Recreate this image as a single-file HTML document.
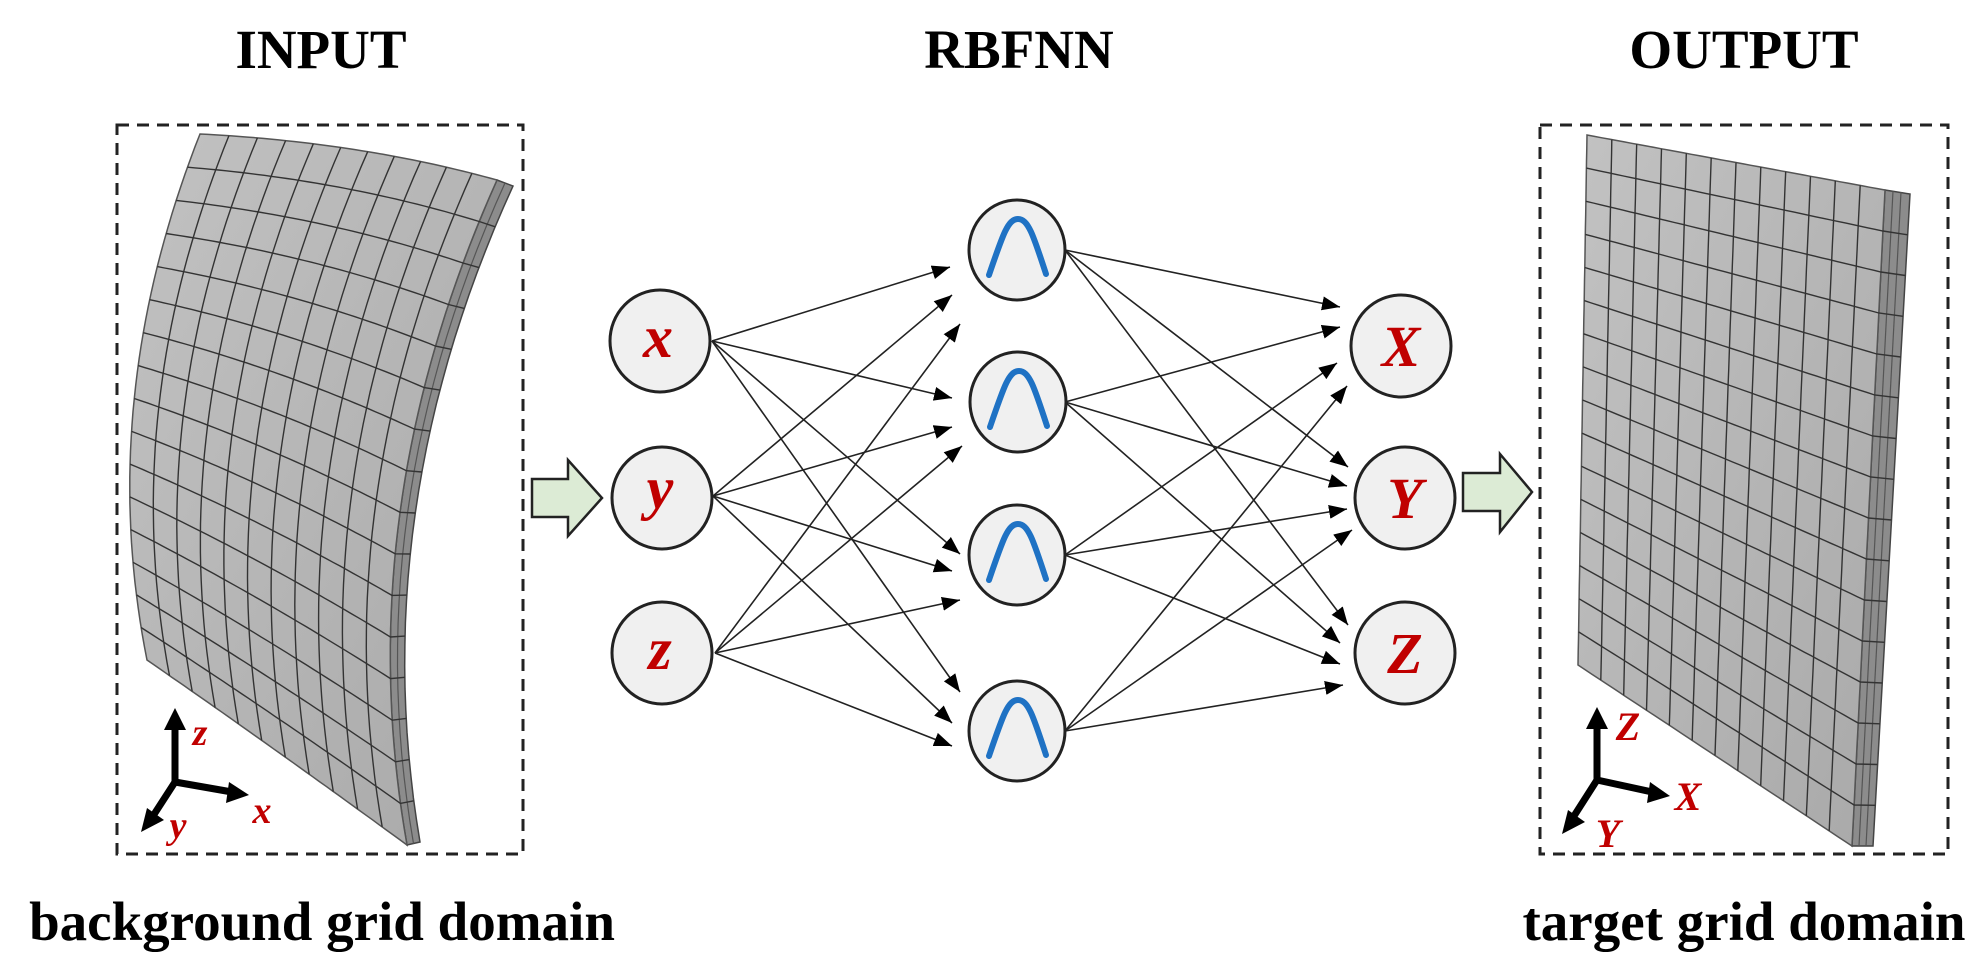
<!DOCTYPE html>
<html><head><meta charset="utf-8"><style>
html,body{margin:0;padding:0;background:#fff;}
svg{display:block;}
.t{font-family:"Liberation Serif",serif;font-weight:bold;fill:#000;}
.n{font-family:"Liberation Serif",serif;font-weight:bold;font-style:italic;fill:#c00000;}
</style></head><body>
<svg id="s" width="1987" height="971" viewBox="0 0 1987 971" xmlns="http://www.w3.org/2000/svg">
<defs>
<marker id="ah" markerUnits="userSpaceOnUse" markerWidth="20" markerHeight="16" refX="18" refY="7" orient="auto"><path d="M0,0 L18,7 L0,14 Z" fill="#000"/></marker>
<linearGradient id="gf" x1="0" y1="0" x2="1" y2="1"><stop offset="0" stop-color="#c2c2c2"/><stop offset="1" stop-color="#a9a9a9"/></linearGradient>
</defs>
<rect width="1987" height="971" fill="#fff"/>
<text class="t" x="321" y="68" font-size="55" text-anchor="middle">INPUT</text>
<text class="t" x="1019" y="68" font-size="55" text-anchor="middle">RBFNN</text>
<text class="t" x="1744" y="68" font-size="55" text-anchor="middle">OUTPUT</text>
<text class="t" x="322" y="940" font-size="55" text-anchor="middle">background grid domain</text>
<text class="t" x="1744" y="940" font-size="55" text-anchor="middle">target grid domain</text>
<rect x="117" y="125" width="406" height="729" fill="none" stroke="#222" stroke-width="3" stroke-dasharray="12,8"/>
<rect x="1540" y="125" width="408" height="729" fill="none" stroke="#222" stroke-width="3" stroke-dasharray="12,8"/>
<g id="meshes"></g>
<g stroke="#000" stroke-width="7" fill="none">
<line x1="175" y1="782" x2="175" y2="728"/><line x1="175" y1="782" x2="232" y2="792"/><line x1="175" y1="782" x2="153" y2="816"/>
<line x1="1597" y1="780" x2="1597" y2="727"/><line x1="1597" y1="780" x2="1652" y2="792"/><line x1="1597" y1="780" x2="1574" y2="816"/>
</g>
<g fill="#000">
<path d="M175,708 L164,730 L186,730Z"/><path d="M249,795 L229,782 L226,803Z"/><path d="M141,832 L147,808 L164,820Z"/>
<path d="M1597,707 L1586,729 L1608,729Z"/><path d="M1670,796 L1650,782 L1647,803Z"/><path d="M1562,834 L1568,810 L1585,822Z"/>
</g>
<text class="n" x="200" y="745" font-size="38" text-anchor="middle">z</text>
<text class="n" x="262" y="823" font-size="38" text-anchor="middle">x</text>
<text class="n" x="178" y="838" font-size="38" text-anchor="middle">y</text>
<text class="n" x="1628" y="740" font-size="40" text-anchor="middle">Z</text>
<text class="n" x="1688" y="810" font-size="40" text-anchor="middle">X</text>
<text class="n" x="1608" y="847" font-size="40" text-anchor="middle">Y</text>
<path d="M532,479 L568,479 L568,460 L602,498 L568,536 L568,517 L532,517 Z" fill="#dcebd5" stroke="#222" stroke-width="2.5"/>
<path d="M1463,473 L1500,473 L1500,454 L1532,492 L1500,532 L1500,511 L1463,511 Z" fill="#dcebd5" stroke="#222" stroke-width="2.5"/>
<g id="links" stroke="#222" stroke-width="1.6" fill="none"></g>
<g id="nodes"></g>
</svg>
<script>
var NS="http://www.w3.org/2000/svg";
function el(p,t,a){var e=document.createElementNS(NS,t);for(var k in a)e.setAttribute(k,a[k]);p.appendChild(e);return e;}
function q(c,t){var a=(1-t)*(1-t),b=2*t*(1-t),d=t*t;return [a*c[0][0]+b*c[1][0]+d*c[2][0],a*c[0][1]+b*c[1][1]+d*c[2][1]];}
function coons(T,B,L,R,u,v){var t=q(T,u),b=q(B,u),l=q(L,v),r=q(R,v);var P00=T[0],P10=T[2],P01=B[0],P11=B[2];var o=[];for(var i=0;i<2;i++){o[i]=(1-v)*t[i]+v*b[i]+(1-u)*l[i]+u*r[i]-((1-u)*(1-v)*P00[i]+u*(1-v)*P10[i]+(1-u)*v*P01[i]+u*v*P11[i]);}return o;}
function pts(a){return a.map(function(p){return p[0].toFixed(1)+","+p[1].toFixed(1)}).join(" ");}
var M=document.getElementById("meshes");
function mesh(T,B,L,R,cols,rows,strip){
 if(strip){el(M,"polygon",{points:pts(strip.poly),fill:"#8c8c8c",stroke:"#444","stroke-width":1.5});
  strip.lines.forEach(function(l){el(M,"polyline",{points:pts(l),fill:"none",stroke:"#555","stroke-width":1.2});});}
 var outline=[],N=40,i;
 for(i=0;i<=N;i++)outline.push(coons(T,B,L,R,i/N,0));
 for(i=0;i<=N;i++)outline.push(coons(T,B,L,R,1,i/N));
 for(i=N;i>=0;i--)outline.push(coons(T,B,L,R,i/N,1));
 for(i=N;i>=0;i--)outline.push(coons(T,B,L,R,0,i/N));
 el(M,"polygon",{points:pts(outline),fill:"url(#gf)",stroke:"#555","stroke-width":1.5});
 for(var c=1;c<cols;c++){var a=[];for(i=0;i<=N;i++)a.push(coons(T,B,L,R,c/cols,i/N));el(M,"polyline",{points:pts(a),fill:"none",stroke:"#333","stroke-width":1.4});}
 for(var r=1;r<rows;r++){var a2=[];for(i=0;i<=N;i++)a2.push(coons(T,B,L,R,i/N,r/rows));
  if(strip&&strip.ext){a2.push(strip.ext(r/rows));}
  el(M,"polyline",{points:pts(a2),fill:"none",stroke:"#333","stroke-width":1.4});}
}
var T1=[[200,134],[360,142],[497,180]],B1=[[147,660],[270,745],[407,845]],L1=[[200,134],[95,400],[147,660]],R1=[[497,180],[348,512],[407,845]];
var R1o=[[513,186],[364,512],[420,842]];
var sp=[];for(var i=0;i<=30;i++)sp.push(q(R1,i/30));for(i=30;i>=0;i--)sp.push(q(R1o,i/30));
var mid=[];for(i=0;i<=30;i++){var a=q(R1,i/30),b=q(R1o,i/30);mid.push([(a[0]+b[0])/2,(a[1]+b[1])/2]);}
mesh(T1,B1,L1,R1,11,16,{poly:sp,lines:[mid],ext:function(v){return q(R1o,v);}});
function lin(a,b){return [a,[(a[0]+b[0])/2,(a[1]+b[1])/2],b];}
var TL=[1587,135],TR=[1885,190],BR=[1852,846],BL=[1578,665],TRo=[1910,194],BRo=[1873,846];
var sp2=[TR,TRo,BRo,BR];
var m1=[[1893,191],[1859,846]],m2=[[1901,192],[1866,846]];
mesh(lin(TL,TR),lin(BL,BR),lin(TL,BL),lin(TR,BR),12,16,{poly:sp2,lines:[m1,m2],ext:function(v){return [TRo[0]+(BRo[0]-TRo[0])*v,TRo[1]+(BRo[1]-TRo[1])*v];}});
var L=document.getElementById("links"),Nd=document.getElementById("nodes");
var inp=[[660,341],[662,498],[662,653]],hid=[[1017,250],[1018,402],[1017,555],[1017,731]],out=[[1401,346],[1405,498],[1405,653]];
var src=[[712,341],[713,496],[715,653]];
var tips=[[[950,267],[952,295],[960,324]],[[952,398],[952,427],[962,446]],[[960,554],[952,571],[960,600]],[[960,692],[952,723],[952,746]]];
for(var h=0;h<4;h++)for(var s=0;s<3;s++)el(L,"line",{x1:src[s][0],y1:src[s][1],x2:tips[h][s][0],y2:tips[h][s][1],"marker-end":"url(#ah)"});
var tips2=[[[1340,307],[1340,327],[1337,363],[1347,386]],[[1348,467],[1347,486],[1347,509],[1352,530]],[[1348,625],[1340,643],[1340,664],[1343,685]]];
for(var o=0;o<3;o++)for(h=0;h<4;h++)el(L,"line",{x1:1065,y1:hid[h][1],x2:tips2[o][h][0],y2:tips2[o][h][1],"marker-end":"url(#ah)"});
var lab=["x","y","z"],lab2=["X","Y","Z"];
inp.forEach(function(p,i){el(Nd,"ellipse",{cx:p[0],cy:p[1],rx:50,ry:51,fill:"#f0f0f0",stroke:"#222","stroke-width":3});var t=el(Nd,"text",{x:p[0]-2,y:p[1]+(i==1?10:16),"font-size":60,"text-anchor":"middle","class":"n"});t.textContent=lab[i];});
out.forEach(function(p,i){el(Nd,"ellipse",{cx:p[0],cy:p[1],rx:50,ry:51,fill:"#f0f0f0",stroke:"#222","stroke-width":3});var t=el(Nd,"text",{x:p[0],y:p[1]+20,"font-size":58,"text-anchor":"middle","class":"n"});t.textContent=lab2[i];});
hid.forEach(function(p){el(Nd,"ellipse",{cx:p[0],cy:p[1],rx:48,ry:50,fill:"#f0f0f0",stroke:"#222","stroke-width":3});
 el(Nd,"path",{d:"M"+(p[0]-28)+","+(p[1]+25)+" C"+(p[0]-14)+","+(p[1]-16)+" "+(p[0]-9)+","+(p[1]-31)+" "+(p[0]+1)+","+(p[1]-31)+" C"+(p[0]+11)+","+(p[1]-31)+" "+(p[0]+16)+","+(p[1]-16)+" "+(p[0]+29)+","+(p[1]+24),fill:"none",stroke:"#1f72c4","stroke-width":6,"stroke-linecap":"round"});});
</script>
</body></html>
